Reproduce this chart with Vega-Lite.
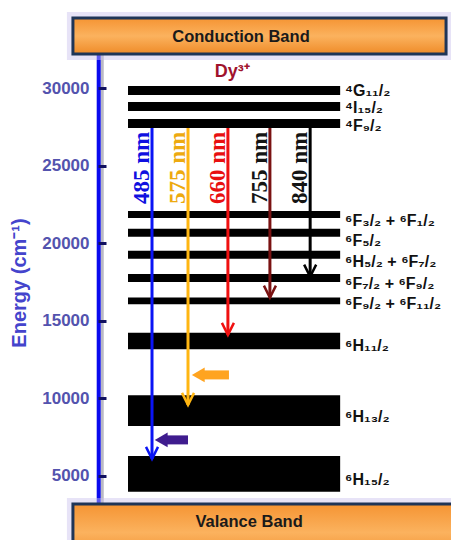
{
  "$schema": "https://vega.github.io/schema/vega-lite/v6.json",
  "width": 353,
  "height": 455,
  "autosize": {"type": "none"},
  "padding": {"left": 98, "top": 55, "right": 0, "bottom": 30},
  "background": "white",
  "config": {"view": {"stroke": null}},
  "datasets": {
    "levels": [
      {"term": "⁴G₁₁/₂", "lo": 29570, "hi": 30150, "labelE": 29826, "tier": "upper"},
      {"term": "⁴I₁₅/₂", "lo": 28540, "hi": 29120, "labelE": 28762, "tier": "upper"},
      {"term": "⁴F₉/₂", "lo": 27440, "hi": 28020, "labelE": 27569, "tier": "upper"},
      {"term": "⁶F₃/₂ + ⁶F₁/₂", "lo": 21630, "hi": 22080, "labelE": 21445, "tier": "middle"},
      {"term": "⁶F₅/₂", "lo": 20430, "hi": 20950, "labelE": 20154, "tier": "middle"},
      {"term": "⁶H₅/₂ + ⁶F₇/₂", "lo": 19010, "hi": 19530, "labelE": 18800, "tier": "middle"},
      {"term": "⁶F₇/₂ + ⁶F₉/₂", "lo": 17510, "hi": 18030, "labelE": 17381, "tier": "middle"},
      {"term": "⁶F₉/₂ + ⁶F₁₁/₂", "lo": 16070, "hi": 16500, "labelE": 16092, "tier": "middle"},
      {"term": "⁶H₁₁/₂", "lo": 13170, "hi": 14240, "labelE": 13385, "tier": "lower"},
      {"term": "⁶H₁₃/₂", "lo": 8225, "hi": 10205, "labelE": 8807, "tier": "lower"},
      {"term": "⁶H₁₅/₂", "lo": 3970, "hi": 6290, "labelE": 4745, "tier": "lower"}
    ],
    "emissions": [
      {"wl": "485 nm", "pos": 15.3, "from": 27440, "to": 6097, "labelFrom": 22540},
      {"wl": "575 nm", "pos": 25.5, "from": 27440, "to": 9579, "labelFrom": 22540},
      {"wl": "660 nm", "pos": 36.8, "from": 27440, "to": 14093, "labelFrom": 22540},
      {"wl": "755 nm", "pos": 48.7, "from": 27440, "to": 16498, "labelFrom": 22540},
      {"wl": "840 nm", "pos": 60.1, "from": 27440, "to": 17852, "labelFrom": 22540}
    ],
    "bands": [
      {"band": "Conduction Band", "x1": -7.1, "x2": 98.6, "lo": 32212, "hi": 34533, "textE": 33308, "textX": 40.5},
      {"band": "Valance Band", "x1": -7.1, "x2": 103, "lo": -500, "hi": 3195, "textE": 2035, "textX": 42.8}
    ],
    "relax": [
      {"arrow": "orange", "tail": 37.1, "neck": 29.5, "head": 28.4, "E": 11514},
      {"arrow": "purple", "tail": 25.5, "neck": 18.7, "head": 17.9, "E": 7322}
    ],
    "ion": [
      {"label": "Dy³⁺", "pos": 38.0, "E": 31051}
    ],
    "axisline": [
      {"part": "axis", "pos": 0.2, "top": 32150, "bottom": 3000},
      {"part": "shadow", "pos": 1.2, "top": 32150, "bottom": 3000}
    ]
  },
  "layer": [
    {
      "data": {"name": "levels"},
      "mark": {"type": "rect", "color": "black"},
      "encoding": {
        "x": {"datum": 8.5, "type": "quantitative", "scale": {"domain": [0, 100], "nice": false, "zero": false}, "axis": null},
        "x2": {"datum": 68.6},
        "y": {
          "field": "lo", "type": "quantitative",
          "scale": {"domain": [2800, 32150], "nice": false, "zero": false},
          "axis": {
            "title": "Energy (cm⁻¹)",
            "values": [5000, 10000, 15000, 20000, 25000, 30000],
            "format": "d",
            "grid": false,
            "domain": false,
            "zindex": 1,
            "tickColor": "#101060",
            "tickWidth": 3,
            "tickSize": -8,
            "labelPadding": 17,
            "labelFont": "Liberation Sans",
            "labelFontSize": 17,
            "labelFontWeight": "bold",
            "labelColor": "#5353AE",
            "titleFont": "Liberation Sans",
            "titleFontSize": 20,
            "titleFontWeight": "bold",
            "titleColor": "#4444CC",
            "titlePadding": 12
          }
        },
        "y2": {"field": "hi"}
      }
    },
    {
      "data": {"name": "axisline"},
      "transform": [{"filter": "datum.part === 'shadow'"}],
      "mark": {"type": "rule", "color": "#b9b9c4", "strokeWidth": 3},
      "encoding": {
        "x": {"field": "pos", "type": "quantitative", "scale": {"domain": [0, 100], "nice": false, "zero": false}, "axis": null},
        "y": {"field": "top", "type": "quantitative", "scale": {"domain": [2800, 32150], "nice": false, "zero": false}},
        "y2": {"field": "bottom"}
      }
    },
    {
      "data": {"name": "axisline"},
      "transform": [{"filter": "datum.part === 'axis'"}],
      "mark": {"type": "rule", "color": "#0A0AEE", "strokeWidth": 4},
      "encoding": {
        "x": {"field": "pos", "type": "quantitative", "scale": {"domain": [0, 100], "nice": false, "zero": false}, "axis": null},
        "y": {"field": "top", "type": "quantitative", "scale": {"domain": [2800, 32150], "nice": false, "zero": false}},
        "y2": {"field": "bottom"}
      }
    },
    {
      "data": {"name": "levels"},
      "mark": {"type": "text", "align": "left", "baseline": "middle", "font": "Liberation Sans", "fontWeight": "bold", "color": "#111111"},
      "encoding": {
        "x": {"datum": 70.0, "type": "quantitative", "scale": {"domain": [0, 100], "nice": false, "zero": false}, "axis": null},
        "y": {"field": "labelE", "type": "quantitative", "scale": {"domain": [2800, 32150], "nice": false, "zero": false}},
        "text": {"field": "term"},
        "size": {"field": "tier", "type": "nominal", "scale": {"domain": ["upper", "middle", "lower"], "range": [16, 16, 23]}, "legend": null}
      }
    },
    {
      "data": {"name": "ion"},
      "mark": {"type": "text", "align": "center", "baseline": "middle", "font": "Liberation Sans", "fontWeight": "bold", "fontSize": 18, "color": "#A0122C"},
      "encoding": {
        "x": {"field": "pos", "type": "quantitative", "scale": {"domain": [0, 100], "nice": false, "zero": false}, "axis": null},
        "y": {"field": "E", "type": "quantitative", "scale": {"domain": [2800, 32150], "nice": false, "zero": false}},
        "text": {"field": "label"}
      }
    },
    {
      "data": {"name": "emissions"},
      "mark": {"type": "rule", "strokeWidth": 3},
      "encoding": {
        "x": {"field": "pos", "type": "quantitative", "scale": {"domain": [0, 100], "nice": false, "zero": false}, "axis": null},
        "y": {"field": "from", "type": "quantitative", "scale": {"domain": [2800, 32150], "nice": false, "zero": false}},
        "y2": {"field": "to"},
        "stroke": {"field": "wl", "type": "nominal", "scale": {"domain": ["485 nm", "575 nm", "660 nm", "755 nm", "840 nm"], "range": ["#0A14F5", "#FFB612", "#F01010", "#7A1212", "#000000"]}, "legend": null}
      }
    },
    {
      "data": {"name": "emissions"},
      "mark": {"type": "point", "shape": "M-1,-2L0,0L1,-2", "filled": false, "size": 144, "strokeWidth": 2.5, "opacity": 1},
      "encoding": {
        "x": {"field": "pos", "type": "quantitative", "scale": {"domain": [0, 100], "nice": false, "zero": false}, "axis": null},
        "y": {"field": "to", "type": "quantitative", "scale": {"domain": [2800, 32150], "nice": false, "zero": false}},
        "stroke": {"field": "wl", "type": "nominal", "scale": {"domain": ["485 nm", "575 nm", "660 nm", "755 nm", "840 nm"], "range": ["#0A14F5", "#FFB612", "#F01010", "#7A1212", "#000000"]}, "legend": null}
      }
    },
    {
      "data": {"name": "emissions"},
      "mark": {"type": "text", "angle": 270, "align": "left", "baseline": "alphabetic", "dy": -3, "font": "Liberation Serif", "fontWeight": "bold", "fontSize": 23},
      "encoding": {
        "x": {"field": "pos", "type": "quantitative", "scale": {"domain": [0, 100], "nice": false, "zero": false}, "axis": null},
        "y": {"field": "labelFrom", "type": "quantitative", "scale": {"domain": [2800, 32150], "nice": false, "zero": false}},
        "text": {"field": "wl"},
        "fill": {"field": "wl", "type": "nominal", "scale": {"domain": ["485 nm", "575 nm", "660 nm", "755 nm", "840 nm"], "range": ["#1010E0", "#EDAA10", "#E81010", "#141414", "#141414"]}, "legend": null}
      }
    },
    {
      "data": {"name": "relax"},
      "mark": {"type": "rule", "strokeWidth": 9},
      "encoding": {
        "x": {"field": "neck", "type": "quantitative", "scale": {"domain": [0, 100], "nice": false, "zero": false}, "axis": null},
        "x2": {"field": "tail"},
        "y": {"field": "E", "type": "quantitative", "scale": {"domain": [2800, 32150], "nice": false, "zero": false}},
        "color": {"field": "arrow", "type": "nominal", "scale": {"domain": ["orange", "purple"], "range": ["#FFA420", "#3F1C8E"]}, "legend": null}
      }
    },
    {
      "data": {"name": "relax"},
      "mark": {"type": "point", "shape": "triangle-left", "filled": true, "size": 220, "opacity": 1},
      "encoding": {
        "x": {"field": "head", "type": "quantitative", "scale": {"domain": [0, 100], "nice": false, "zero": false}, "axis": null},
        "y": {"field": "E", "type": "quantitative", "scale": {"domain": [2800, 32150], "nice": false, "zero": false}},
        "color": {"field": "arrow", "type": "nominal", "scale": {"domain": ["orange", "purple"], "range": ["#FFA420", "#3F1C8E"]}, "legend": null}
      }
    },
    {
      "data": {"name": "bands"},
      "mark": {"type": "rect", "fill": null, "stroke": "#c9c0ee", "strokeWidth": 12, "strokeOpacity": 0.45},
      "encoding": {
        "x": {"field": "x1", "type": "quantitative", "scale": {"domain": [0, 100], "nice": false, "zero": false}, "axis": null},
        "x2": {"field": "x2"},
        "y": {"field": "lo", "type": "quantitative", "scale": {"domain": [2800, 32150], "nice": false, "zero": false}},
        "y2": {"field": "hi"}
      }
    },
    {
      "data": {"name": "bands"},
      "mark": {
        "type": "rect",
        "stroke": "#1F3557",
        "strokeWidth": 3,
        "fill": {"gradient": "linear", "x1": 0, "y1": 0, "x2": 0, "y2": 1, "stops": [{"offset": 0, "color": "#F59433"}, {"offset": 0.5, "color": "#FBB25E"}, {"offset": 1, "color": "#EF8B28"}]}
      },
      "encoding": {
        "x": {"field": "x1", "type": "quantitative", "scale": {"domain": [0, 100], "nice": false, "zero": false}, "axis": null},
        "x2": {"field": "x2"},
        "y": {"field": "lo", "type": "quantitative", "scale": {"domain": [2800, 32150], "nice": false, "zero": false}},
        "y2": {"field": "hi"}
      }
    },
    {
      "data": {"name": "bands"},
      "mark": {"type": "text", "align": "center", "baseline": "middle", "font": "Liberation Sans", "fontWeight": "bold", "fontSize": 16.5, "color": "#1a1a1a"},
      "encoding": {
        "x": {"field": "textX", "type": "quantitative", "scale": {"domain": [0, 100], "nice": false, "zero": false}, "axis": null},
        "y": {"field": "textE", "type": "quantitative", "scale": {"domain": [2800, 32150], "nice": false, "zero": false}},
        "text": {"field": "band"}
      }
    }
  ]
}
